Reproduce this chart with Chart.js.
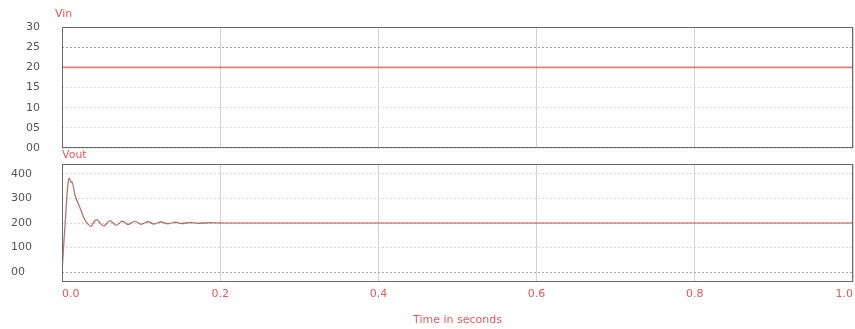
<!DOCTYPE html>
<html>
<head>
<meta charset="utf-8">
<script src="https://cdn.jsdelivr.net/npm/chart.js@4.4.1/dist/chart.umd.min.js"></script>
<style>
  html, body { margin: 0; padding: 0; background: #ffffff; }
  #wrap { position: relative; width: 855px; height: 329px; background: #ffffff; overflow: hidden; }
  #wrap canvas { position: absolute; left: 0; }
  #cVin { top: 0; }
  #cVout { top: 150px; }
</style>
</head>
<body>
<div id="wrap">
  <canvas id="cVin" width="855" height="158"></canvas>
  <canvas id="cVout" width="855" height="179"></canvas>
</div>
<script>
// Simulation time axis (seconds)
const timeTicks = [0, 0.2, 0.4, 0.6, 0.8, 1.0];
const timeTickLabels = ['0.0', '0.2', '0.4', '0.6', '0.8', '1.0'];

// Input voltage
const vinTime = [0, 1.0];
const vinValues = [20, 20];
const vinTicks = [0, 5, 10, 15, 20, 25, 30];
const vinTickLabels = ['00', '05', '10', '15', '20', '25', '30'];

// Output voltage: start-up overshoot, damped ringing, then steady state
const voutTime = [0, 0.005, 0.0076, 0.0095, 0.0114, 0.0126, 0.0164, 0.0228, 0.029, 0.033,
  0.0367, 0.0405, 0.0442, 0.048, 0.053, 0.0569, 0.0607, 0.0645, 0.0683, 0.0765,
  0.0834, 0.0923, 0.0999, 0.1087, 0.1163, 0.1252, 0.134, 0.1429, 0.1517, 0.1618,
  0.172, 0.187, 0.202, 1.0];
const voutValues = [0, 250, 360, 382, 365, 368, 314, 261, 212, 195,
  186, 205, 214, 200, 188, 200, 210, 200, 191, 208,
  194, 207, 195, 205, 196, 204, 197, 203, 198, 202,
  199, 201, 200, 200];
const voutTicks = [0, 100, 200, 300, 400];
const voutTickLabels = ['00', '100', '200', '300', '400'];

const RED = '#e05a5a';
const FONT = 'DejaVu Sans';

function points(xs, ys) {
  return xs.map((x, i) => ({ x: x, y: ys[i] }));
}

// Frame around the plotting area plus the signal name above it
function framePlugin(name) {
  return {
    id: 'frame',
    afterDraw(chart) {
      const { ctx, chartArea: a } = chart;
      ctx.save();
      ctx.strokeStyle = '#6a6a6a';
      ctx.lineWidth = 1;
      ctx.strokeRect(Math.round(a.left) + 0.5, Math.round(a.top) + 0.5,
        Math.round(a.right - a.left) - 1, Math.round(a.bottom - a.top) - 1);
      ctx.fillStyle = RED;
      ctx.font = '11px "' + FONT + '"';
      ctx.textBaseline = 'middle';
      ctx.textAlign = 'left';
      ctx.fillText(name.text, name.x, name.y);
      ctx.restore();
    }
  };
}

function xScale(showLabels, height) {
  return {
    type: 'linear',
    min: 0,
    max: 1,
    afterBuildTicks(s) { s.ticks = timeTicks.map(v => ({ value: v })); },
    afterFit(s) {
      s.height = height;
      s.paddingLeft = 0;
      s.paddingRight = 0;
    },
    border: { display: false },
    grid: {
      drawTicks: false,
      color: '#d2d2d2',
      lineWidth: 1
    },
    ticks: {
      display: showLabels,
      align: 'inner',
      maxRotation: 0,
      padding: 6,
      color: RED,
      font: { family: FONT, size: 11 },
      callback: (v, i) => timeTickLabels[i]
    }
  };
}

function yFit(width) {
  return function (s) {
    s.width = width;
    s.paddingTop = 0;
    s.paddingBottom = 0;
  };
}

// Vin panel
new Chart(document.getElementById('cVin'), {
  type: 'line',
  data: {
    datasets: [{
      label: 'Vin',
      data: points(vinTime, vinValues),
      borderColor: 'rgba(228, 104, 104, 0.85)',
      borderWidth: 1.6,
      pointRadius: 0,
      tension: 0
    }]
  },
  options: {
    responsive: false,
    animation: false,
    layout: { padding: { top: 27, right: 2, left: 0, bottom: 0 } },
    plugins: { legend: { display: false }, tooltip: { enabled: false } },
    scales: {
      x: xScale(false, 10),
      y: {
        type: 'linear',
        min: 0,
        max: 30,
        afterBuildTicks(s) { s.ticks = vinTicks.map(v => ({ value: v })); },
        afterFit: yFit(62),
        border: { display: false, dash: [2, 2] },
        grid: {
          drawTicks: false,
          color: c => (c.tick && c.tick.value === 25) ? '#9a9a9a' : '#dcdcdc'
        },
        ticks: {
          padding: 22,
          color: '#555555',
          font: { family: FONT, size: 11 },
          callback: (v, i) => vinTickLabels[i]
        }
      }
    }
  },
  plugins: [framePlugin({ text: 'Vin', x: 55, y: 14 })]
});

// Vout panel
new Chart(document.getElementById('cVout'), {
  type: 'line',
  data: {
    datasets: [{
      label: 'Vout',
      data: points(voutTime, voutValues),
      borderColor: 'rgba(228, 104, 104, 0.9)',
      borderWidth: 1.3,
      pointRadius: 0,
      cubicInterpolationMode: 'monotone',
      segment: {
        borderColor: c => c.p0.parsed.x < 0.2 ? 'rgba(170, 100, 96, 0.9)' : undefined
      }
    }]
  },
  options: {
    responsive: false,
    animation: false,
    layout: { padding: { top: 14, right: 2, left: 11, bottom: 0 } },
    plugins: { legend: { display: false }, tooltip: { enabled: false } },
    scales: {
      x: Object.assign(xScale(true, 47), {
        title: {
          display: true,
          text: 'Time in seconds',
          color: RED,
          font: { family: FONT, size: 11 },
          padding: { top: 0, bottom: 2 }
        }
      }),
      y: {
        type: 'linear',
        min: -40,
        max: 440,
        afterBuildTicks(s) { s.ticks = voutTicks.map(v => ({ value: v })); },
        afterFit: yFit(51),
        border: { display: false, dash: [2, 2] },
        grid: {
          drawTicks: false,
          color: c => (c.tick && c.tick.value === 0) ? '#a8a8a8' : '#d6d6d6'
        },
        ticks: {
          crossAlign: 'far',
          padding: 10,
          color: '#555555',
          font: { family: FONT, size: 11 },
          callback: (v, i) => voutTickLabels[i]
        }
      }
    }
  },
  plugins: [framePlugin({ text: 'Vout', x: 62, y: 5 })]
});
</script>
</body>
</html>
